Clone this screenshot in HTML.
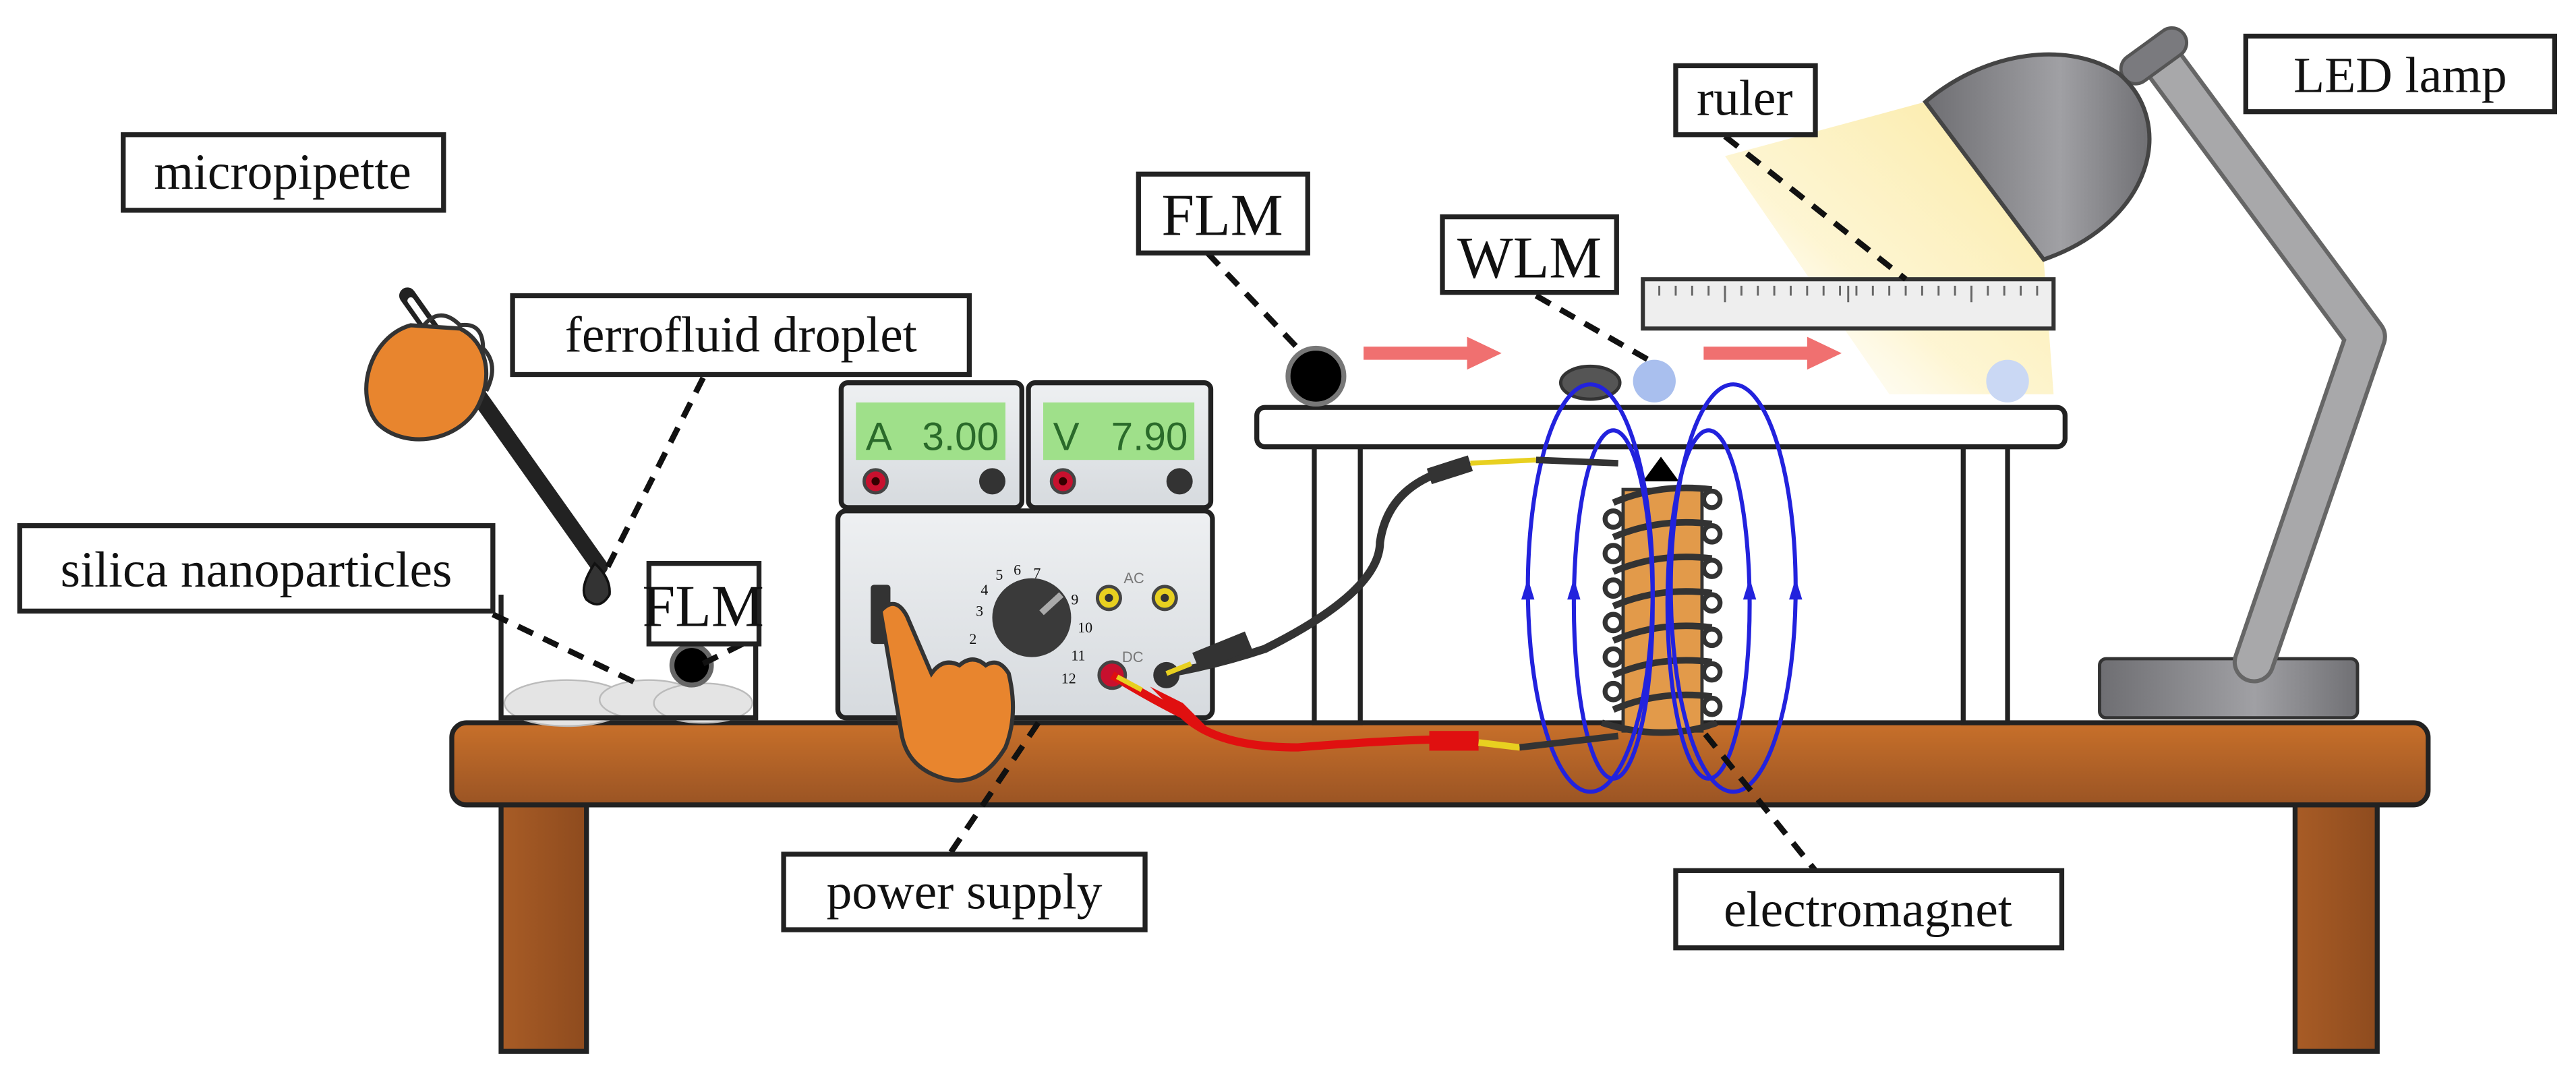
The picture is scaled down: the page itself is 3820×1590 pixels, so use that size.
<!DOCTYPE html>
<html><head><meta charset="utf-8"><style>
html,body{margin:0;padding:0;background:#fff;}
svg{display:block}
text{font-family:"Liberation Serif",serif;fill:#111}
</style></head><body>
<svg width="3820" height="1590" viewBox="0 0 1568 652.6" preserveAspectRatio="none" xmlns="http://www.w3.org/2000/svg">
<defs>
<linearGradient id="tbl" x1="0" y1="0" x2="0" y2="1"><stop offset="0" stop-color="#c8702a"/><stop offset="1" stop-color="#9a5424"/></linearGradient>
<linearGradient id="leg" x1="0" y1="0" x2="1" y2="0"><stop offset="0" stop-color="#a85c26"/><stop offset="1" stop-color="#8e4b1e"/></linearGradient>
<linearGradient id="lamp" x1="0" y1="0" x2="1" y2="0"><stop offset="0" stop-color="#6e6e72"/><stop offset="0.6" stop-color="#a0a0a4"/><stop offset="1" stop-color="#707074"/></linearGradient>
<linearGradient id="light" x1="1" y1="0" x2="0" y2="1"><stop offset="0" stop-color="#fbe9a0"/><stop offset="0.6" stop-color="#fdf3c8" stop-opacity="0.8"/><stop offset="1" stop-color="#fff" stop-opacity="0"/></linearGradient>
<linearGradient id="ps" x1="0" y1="0" x2="0" y2="1"><stop offset="0" stop-color="#eef0f2"/><stop offset="1" stop-color="#d6dade"/></linearGradient>
</defs>

<!-- light cone -->
<polygon points="1172,62 1244,158 1250,240 1150,240 1050,95" fill="url(#light)"/>

<!-- table -->
<rect x="305" y="488" width="52" height="152" fill="url(#leg)" stroke="#222" stroke-width="3"/>
<rect x="1397" y="488" width="50" height="152" fill="url(#leg)" stroke="#222" stroke-width="3"/>
<rect x="275" y="440" width="1203" height="50" rx="9" fill="url(#tbl)" stroke="#222" stroke-width="3"/>

<!-- right platform -->
<rect x="800" y="270" width="28" height="170" fill="#fff" stroke="#222" stroke-width="3"/>
<rect x="1195" y="270" width="27" height="170" fill="#fff" stroke="#222" stroke-width="3"/>
<rect x="765" y="248" width="492" height="24" rx="5" fill="#fff" stroke="#222" stroke-width="3"/>

<!-- lamp -->
<rect x="1278" y="401" width="157" height="36" rx="4" fill="url(#lamp)" stroke="#333" stroke-width="2"/>
<polyline points="1318,40 1440,205 1372,403" fill="none" stroke="#666" stroke-width="26" stroke-linejoin="round" stroke-linecap="round"/>
<polyline points="1318,40 1440,205 1372,403" fill="none" stroke="#a8a8aa" stroke-width="21" stroke-linejoin="round" stroke-linecap="round"/>
<line x1="1300" y1="42" x2="1322" y2="26" stroke="#555" stroke-width="20" stroke-linecap="round"/>
<line x1="1300" y1="42" x2="1322" y2="26" stroke="#7a7a7e" stroke-width="16" stroke-linecap="round"/>
<path d="M1172,62 C1210,30 1260,25 1290,45 C1325,75 1310,135 1244,158 Z" fill="url(#lamp)" stroke="#444" stroke-width="2.5"/>

<!-- ruler -->
<rect x="1000" y="170" width="250" height="30" fill="#eeeeee" stroke="#333" stroke-width="2.5"/>
<g stroke="#666" stroke-width="1.2">
<path d="M1010,174v6M1020,174v6M1030,174v6M1040,174v6M1050,174v6M1060,174v6M1070,174v6M1080,174v6M1090,174v6M1100,174v6M1110,174v6M1120,174v6M1130,174v6M1140,174v6M1150,174v6M1160,174v6M1170,174v6M1180,174v6M1190,174v6M1200,174v6M1210,174v6M1220,174v6M1230,174v6M1240,174v6"/>
<path d="M1050,174v10M1125,174v10M1200,174v10"/>
</g>

<!-- balls and arrows -->
<circle cx="801" cy="229" r="17" fill="#000" stroke="#777" stroke-width="3"/>
<polygon points="830,211 893,211 893,205 914,215 893,225 893,219 830,219" fill="#f07070"/>
<polygon points="1037,211 1100,211 1100,205 1121,215 1100,225 1100,219 1037,219" fill="#f07070"/>
<ellipse cx="968" cy="233" rx="18" ry="10" fill="#555" stroke="#333" stroke-width="2"/>
<circle cx="1007" cy="232" r="13" fill="#a9bfee"/>
<circle cx="1222" cy="232" r="13" fill="#cad8f4"/>

<!-- electromagnet -->
<rect x="988" y="298" width="48" height="147" fill="#e29a4a" stroke="#333" stroke-width="2"/>
<g fill="none" stroke="#333" stroke-width="4">
<path d="M982,306 Q1010,294 1042,298 M982,327 Q1010,315 1042,319 M982,348 Q1010,336 1042,340 M982,369 Q1010,357 1042,361 M982,390 Q1010,378 1042,382 M982,411 Q1010,399 1042,403 M982,432 Q1010,420 1042,424"/>
<path d="M975,440 Q1013,452 1045,440"/>
</g>
<g fill="none" stroke="#333" stroke-width="3">
<circle cx="982" cy="316" r="5"/><circle cx="982" cy="337" r="5"/><circle cx="982" cy="358" r="5"/><circle cx="982" cy="379" r="5"/><circle cx="982" cy="400" r="5"/><circle cx="982" cy="421" r="5"/>
<circle cx="1042" cy="304" r="5"/><circle cx="1042" cy="325" r="5"/><circle cx="1042" cy="346" r="5"/><circle cx="1042" cy="367" r="5"/><circle cx="1042" cy="388" r="5"/><circle cx="1042" cy="409" r="5"/><circle cx="1042" cy="430" r="5"/>
</g>
<polygon points="1000,293 1011,278 1022,293" fill="#000"/>
<g fill="none" stroke="#2222dd" stroke-width="2.5">
<ellipse cx="968" cy="358" rx="38" ry="124"/>
<ellipse cx="982" cy="368" rx="24" ry="106"/>
<ellipse cx="1040" cy="368" rx="25" ry="106"/>
<ellipse cx="1055" cy="358" rx="38" ry="124"/>
</g>
<g fill="#2222dd">
<polygon points="926,365 930,352 934,365"/><polygon points="954,365 958,352 962,365"/>
<polygon points="1061,365 1065,352 1069,365"/><polygon points="1089,365 1093,352 1097,365"/>
</g>

<!-- beaker -->
<ellipse cx="345" cy="428" rx="38" ry="14" fill="#e4e4e4" stroke="#bbb"/>
<ellipse cx="395" cy="426" rx="30" ry="12" fill="#e4e4e4" stroke="#bbb"/>
<ellipse cx="428" cy="428" rx="30" ry="12" fill="#e4e4e4" stroke="#bbb"/>
<polyline points="305,362 305,437 460,437 460,362" fill="none" stroke="#222" stroke-width="3"/>
<circle cx="421" cy="405" r="12" fill="#000" stroke="#666" stroke-width="3"/>

<!-- micropipette + hand -->
<line x1="248" y1="180" x2="365" y2="345" stroke="#222" stroke-width="10" stroke-linecap="round"/>
<line x1="250" y1="183" x2="262" y2="200" stroke="#fff" stroke-width="4" stroke-linecap="round"/>
<path d="M250,198 C225,205 215,240 230,258 C248,275 282,268 292,245 C300,228 296,208 280,200 Z" fill="#e8852e" stroke="#333" stroke-width="2.5"/>
<path d="M258,198 Q268,186 280,198 Q294,196 294,212 Q304,222 296,238" fill="none" stroke="#333" stroke-width="2.5"/>
<path d="M362,343 Q352,358 357,365 Q365,372 371,362 Q372,352 362,343 Z" fill="#333" stroke="#111" stroke-width="1.5"/>

<!-- power supply -->
<rect x="512" y="233" width="110" height="76" rx="4" fill="url(#ps)" stroke="#222" stroke-width="3"/>
<rect x="626" y="233" width="111" height="76" rx="4" fill="url(#ps)" stroke="#222" stroke-width="3"/>
<rect x="521" y="245" width="91" height="35" fill="#9fe08a"/>
<rect x="635" y="245" width="92" height="35" fill="#9fe08a"/>
<text x="527" y="274" font-size="24" style="font-family:'Liberation Sans',sans-serif;fill:#2a6a2a">A</text>
<text x="608" y="274" text-anchor="end" font-size="24" style="font-family:'Liberation Sans',sans-serif;fill:#2a6a2a">3.00</text>
<text x="641" y="274" font-size="24" style="font-family:'Liberation Sans',sans-serif;fill:#2a6a2a">V</text>
<text x="723" y="274" text-anchor="end" font-size="24" style="font-family:'Liberation Sans',sans-serif;fill:#2a6a2a">7.90</text>
<circle cx="533" cy="293" r="7" fill="#c8102e" stroke="#444" stroke-width="2"/><circle cx="533" cy="293" r="2.5" fill="#300"/>
<circle cx="604" cy="293" r="8" fill="#333"/>
<circle cx="647" cy="293" r="7" fill="#c8102e" stroke="#444" stroke-width="2"/><circle cx="647" cy="293" r="2.5" fill="#300"/>
<circle cx="718" cy="293" r="8" fill="#333"/>
<rect x="510" y="311" width="228" height="126" rx="5" fill="url(#ps)" stroke="#222" stroke-width="3"/>
<rect x="530" y="356" width="12" height="36" rx="2" fill="#333"/>
<circle cx="628" cy="376" r="24" fill="#3a3a3a"/>
<line x1="634" y1="373" x2="646" y2="362" stroke="#aaa" stroke-width="4"/>
<g font-size="9" style="font-family:'Liberation Sans',sans-serif;fill:#999">
<text x="590" y="392">2</text><text x="594" y="375">3</text><text x="597" y="362">4</text><text x="606" y="353">5</text><text x="617" y="350">6</text><text x="629" y="352">7</text><text x="652" y="368">9</text><text x="656" y="385">10</text><text x="652" y="402">11</text><text x="646" y="416">12</text>
</g>
<text x="684" y="355" font-size="9" style="font-family:'Liberation Sans',sans-serif;fill:#777">AC</text>
<text x="683" y="403" font-size="9" style="font-family:'Liberation Sans',sans-serif;fill:#777">DC</text>
<circle cx="675" cy="364" r="7" fill="#e8d020" stroke="#444" stroke-width="2"/><circle cx="675" cy="364" r="2.5" fill="#333"/>
<circle cx="709" cy="364" r="7" fill="#e8d020" stroke="#444" stroke-width="2"/><circle cx="709" cy="364" r="2.5" fill="#333"/>
<circle cx="677" cy="411" r="8" fill="#c8102e" stroke="#444" stroke-width="2"/>
<circle cx="710" cy="411" r="8" fill="#333"/>

<!-- wires -->
<path d="M710,410 Q740,405 770,395 Q840,360 840,330 Q845,295 885,285" fill="none" stroke="#333" stroke-width="5"/>
<line x1="728" y1="403" x2="760" y2="390" stroke="#333" stroke-width="12"/>
<line x1="870" y1="290" x2="895" y2="282" stroke="#333" stroke-width="10"/>
<line x1="710" y1="410" x2="725" y2="404" stroke="#e8d020" stroke-width="3"/>
<line x1="895" y1="282" x2="935" y2="280" stroke="#e8d020" stroke-width="3"/>
<line x1="935" y1="280" x2="985" y2="282" stroke="#333" stroke-width="4"/>
<path d="M677,411 Q700,425 720,435 Q740,455 790,455 Q850,450 890,450" fill="none" stroke="#e01010" stroke-width="5"/>
<line x1="680" y1="412" x2="695" y2="420" stroke="#e8d020" stroke-width="3"/>
<path d="M700,418 L720,428 L740,448 L722,440 Z" fill="#e01010"/>
<rect x="870" y="445" width="30" height="12" fill="#e01010"/>
<line x1="900" y1="452" x2="925" y2="455" stroke="#e8d020" stroke-width="4"/>
<line x1="925" y1="455" x2="985" y2="448" stroke="#333" stroke-width="4"/>

<!-- pointing hand -->
<path d="M536,372 Q545,362 552,375 L567,410 Q574,400 584,405 Q592,398 600,405 Q608,400 614,410 Q620,435 612,455 Q597,480 575,474 Q553,468 549,448 Z" fill="#e8852e" stroke="#333" stroke-width="2.5"/>

<!-- leaders -->
<g stroke="#111" stroke-width="3.5" stroke-dasharray="10,7" fill="none">
<line x1="428" y1="230" x2="370" y2="345"/>
<line x1="300" y1="374" x2="392" y2="418"/>
<line x1="452" y1="392" x2="428" y2="404"/>
<line x1="735" y1="154" x2="790" y2="212"/>
<line x1="935" y1="180" x2="1005" y2="220"/>
<line x1="1050" y1="83" x2="1160" y2="170"/>
<line x1="632" y1="440" x2="578" y2="520"/>
<line x1="1038" y1="447" x2="1105" y2="530"/>
</g>

<!-- labels -->
<g fill="#fff" stroke="#222" stroke-width="3">
<rect x="75" y="82" width="195" height="46"/>
<rect x="312" y="180" width="278" height="48"/>
<rect x="12" y="320" width="288" height="52"/>
<rect x="395" y="343" width="67" height="49"/>
<rect x="693" y="106" width="103" height="48"/>
<rect x="878" y="132" width="106" height="46"/>
<rect x="1020" y="40" width="85" height="42"/>
<rect x="1367" y="22" width="188" height="46"/>
<rect x="477" y="520" width="220" height="46"/>
<rect x="1020" y="530" width="235" height="47"/>
</g>
<g font-size="31">
<text x="172" y="115" text-anchor="middle">micropipette</text>
<text x="451" y="214" text-anchor="middle">ferrofluid droplet</text>
<text x="156" y="357" text-anchor="middle">silica nanoparticles</text>
<text x="428" y="381" text-anchor="middle" font-size="36">FLM</text>
<text x="744" y="143" text-anchor="middle" font-size="36">FLM</text>
<text x="931" y="169" text-anchor="middle" font-size="36">WLM</text>
<text x="1062" y="70" text-anchor="middle">ruler</text>
<text x="1461" y="56" text-anchor="middle">LED lamp</text>
<text x="587" y="553" text-anchor="middle">power supply</text>
<text x="1137" y="564" text-anchor="middle">electromagnet</text>
</g>
</svg>
</body></html>
